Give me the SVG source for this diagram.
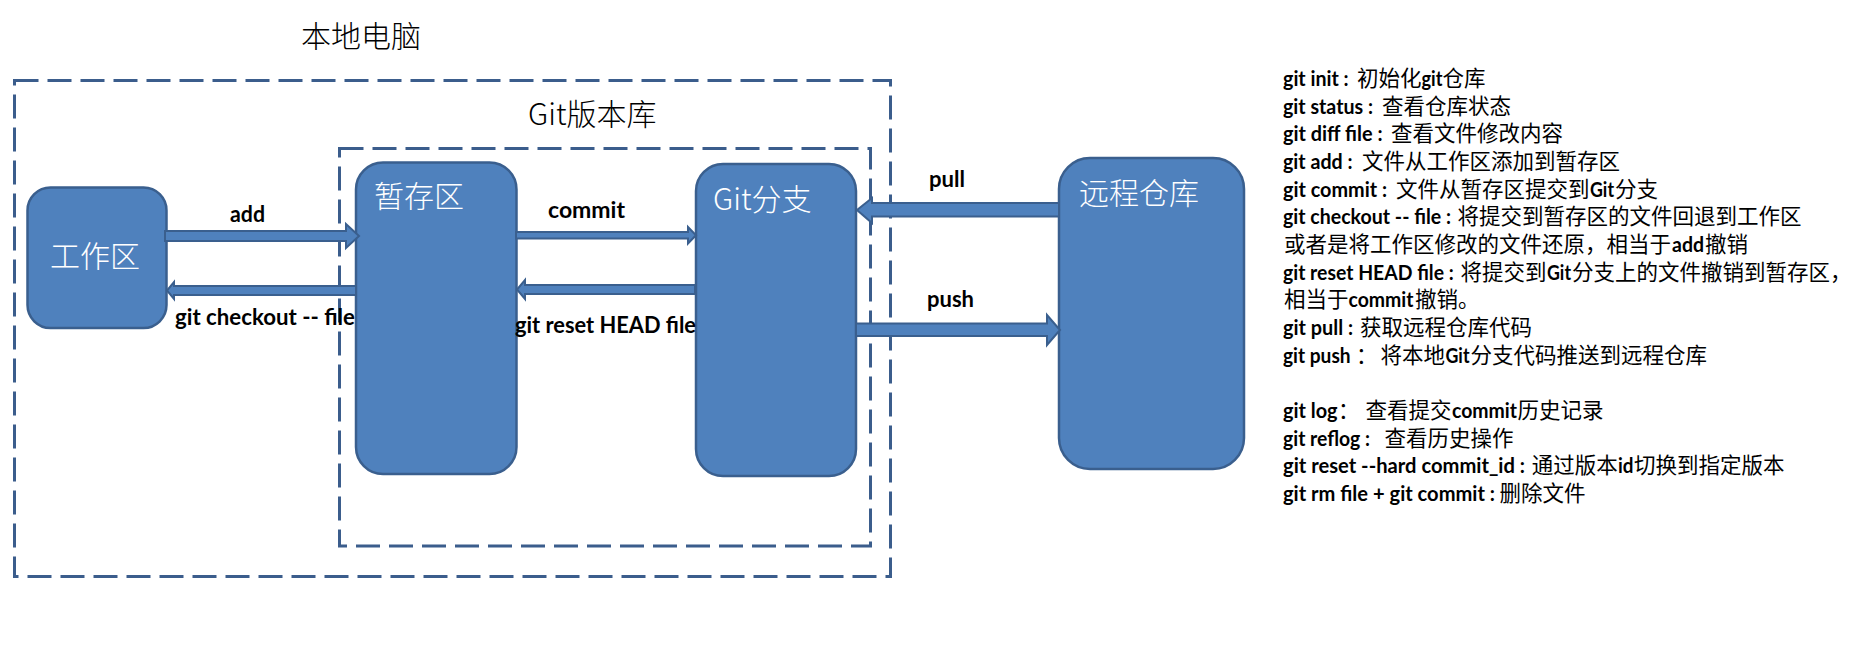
<svg xmlns="http://www.w3.org/2000/svg" width="1858" height="650" viewBox="0 0 1858 650">
<style>
.bg{fill:#ffffff}
.dash{fill:none;stroke:#3B5D8C;stroke-width:3;stroke-dasharray:24 9}
.node{fill:#4F81BD;stroke:#3A5F8E;stroke-width:2.5}
.arrow{fill:#4F81BD;stroke:#3A5F8E;stroke-width:2;stroke-linejoin:miter}
.ntext{font-family:"Noto Sans CJK SC","Noto Sans",sans-serif;font-size:30px;font-weight:300;fill:#ffffff}
.title{font-family:"Noto Sans CJK SC","Noto Sans",sans-serif;font-size:30px;font-weight:300;fill:#000000}
.lbl{font-family:Lato,"Noto Sans CJK SC",sans-serif;font-size:22px;font-weight:bold;fill:#000000}
.list{font-family:"Noto Sans CJK SC","Noto Sans",sans-serif;font-size:21.5px;fill:#000000}
.b{font-family:Lato,"Noto Sans CJK SC",sans-serif;font-weight:bold;font-size:20px}
</style>
<rect class="bg" x="0" y="0" width="1858" height="650"/>

<g id="local-pc">
  <rect class="dash" x="14.5" y="80.5" width="876" height="496"/>
  <text class="title" x="301" y="47">本地电脑</text>
</g>
<g id="git-repo">
  <rect class="dash" x="339.5" y="148.5" width="531" height="397.5"/>
  <text class="title" x="528" y="125">Git版本库</text>
</g>

<g id="node-workspace">
  <rect class="node" x="27.5" y="187.5" width="139" height="140.5" rx="23" ry="23"/>
  <text class="ntext" x="50" y="267">工作区</text>
</g>
<g id="node-stage">
  <rect class="node" x="356" y="162.5" width="160.5" height="311.5" rx="27" ry="27"/>
  <text class="ntext" x="374" y="207">暂存区</text>
</g>
<g id="node-branch">
  <rect class="node" x="696" y="164" width="160" height="312" rx="27" ry="27"/>
  <text class="ntext" x="713" y="210">Git分支</text>
</g>
<g id="node-remote">
  <rect class="node" x="1059" y="158" width="185" height="311" rx="31" ry="31"/>
  <text class="ntext" x="1079" y="204">远程仓库</text>
</g>

<g id="connectors">
  <polygon class="arrow" points="165,231 346,231 346,224 359,236 346,248 346,241 165,241"/>
  <polygon class="arrow" points="356,286 174,286 174,282 167,290.5 174,299 174,295 356,295"/>
  <polygon class="arrow" points="516,232 688,232 688,227 696,235.2 688,243.5 688,238.5 516,238.5"/>
  <polygon class="arrow" points="695,285 525,285 525,280 517,289.5 525,299 525,294 695,294"/>
  <polygon class="arrow" points="1059,203 872,203 872,198 857,210 872,223 872,216.5 1059,216.5"/>
  <polygon class="arrow" points="856,323.5 1047,323.5 1047,315 1060,330 1047,345 1047,336 856,336"/>
  <text class="lbl" x="230" y="222" textLength="35" lengthAdjust="spacingAndGlyphs">add</text>
  <text class="lbl" x="175" y="325" textLength="180" lengthAdjust="spacingAndGlyphs">git checkout -- file</text>
  <text class="lbl" x="548" y="218" textLength="77" lengthAdjust="spacingAndGlyphs">commit</text>
  <text class="lbl" x="515" y="333" textLength="181" lengthAdjust="spacingAndGlyphs">git reset HEAD file</text>
  <text class="lbl" x="929" y="187" textLength="36" lengthAdjust="spacingAndGlyphs">pull</text>
  <text class="lbl" x="927" y="307" textLength="47" lengthAdjust="spacingAndGlyphs">push</text>
</g>

<g id="command-list">
  <text class="list" y="86"><tspan class="b" x="1283" textLength="65.7" lengthAdjust="spacingAndGlyphs">git init :</tspan><tspan x="1357">初始化</tspan><tspan class="b" x="1421.5" textLength="21" lengthAdjust="spacingAndGlyphs">git</tspan><tspan x="1442.6">仓库</tspan></text>
  <text class="list" y="113.7"><tspan class="b" x="1283" textLength="90" lengthAdjust="spacingAndGlyphs">git status :</tspan><tspan x="1382">查看仓库状态</tspan></text>
  <text class="list" y="141.3"><tspan class="b" x="1283" textLength="99.5" lengthAdjust="spacingAndGlyphs">git diff file :</tspan><tspan x="1391">查看文件修改内容</tspan></text>
  <text class="list" y="169"><tspan class="b" x="1283" textLength="69.5" lengthAdjust="spacingAndGlyphs">git add :</tspan><tspan x="1362">文件从工作区添加到暂存区</tspan></text>
  <text class="list" y="196.6"><tspan class="b" x="1283" textLength="104" lengthAdjust="spacingAndGlyphs">git commit :</tspan><tspan x="1396">文件从暂存区提交到</tspan><tspan class="b" x="1590" textLength="24" lengthAdjust="spacingAndGlyphs">Git</tspan><tspan x="1615">分支</tspan></text>
  <text class="list" y="224.3"><tspan class="b" x="1283" textLength="168" lengthAdjust="spacingAndGlyphs">git checkout -- file :</tspan><tspan x="1457.5">将提交到暂存区的文件回退到工作区</tspan></text>
  <text class="list" y="251.9"><tspan x="1284">或者是将工作区修改的文件还原，相当于</tspan><tspan class="b" x="1672" textLength="32" lengthAdjust="spacingAndGlyphs">add</tspan><tspan x="1705">撤销</tspan></text>
  <text class="list" y="279.6"><tspan class="b" x="1283" textLength="170.7" lengthAdjust="spacingAndGlyphs">git reset HEAD file :</tspan><tspan x="1460.5">将提交到</tspan><tspan class="b" x="1547" textLength="24" lengthAdjust="spacingAndGlyphs">Git</tspan><tspan x="1572">分支上的文件撤销到暂存区，</tspan></text>
  <text class="list" y="307.2"><tspan x="1284">相当于</tspan><tspan class="b" x="1348.5" textLength="65" lengthAdjust="spacingAndGlyphs">commit</tspan><tspan x="1415">撤销。</tspan></text>
  <text class="list" y="334.9"><tspan class="b" x="1283" textLength="70" lengthAdjust="spacingAndGlyphs">git pull :</tspan><tspan x="1360">获取远程仓库代码</tspan></text>
  <text class="list" y="362.5"><tspan class="b" x="1283" textLength="67.6" lengthAdjust="spacingAndGlyphs">git push</tspan><tspan x="1356">：</tspan><tspan x="1380.6">将本地</tspan><tspan class="b" x="1445.5" textLength="24" lengthAdjust="spacingAndGlyphs">Git</tspan><tspan x="1470.5">分支代码推送到远程仓库</tspan></text>
  <text class="list" y="417.8"><tspan class="b" x="1283" textLength="54.5" lengthAdjust="spacingAndGlyphs">git log</tspan><tspan x="1338">：</tspan><tspan x="1365.6">查看提交</tspan><tspan class="b" x="1452" textLength="65" lengthAdjust="spacingAndGlyphs">commit</tspan><tspan x="1517.6">历史记录</tspan></text>
  <text class="list" y="445.5"><tspan class="b" x="1283" textLength="87" lengthAdjust="spacingAndGlyphs">git reflog :</tspan><tspan x="1384.4">查看历史操作</tspan></text>
  <text class="list" y="473.1"><tspan class="b" x="1283" textLength="242" lengthAdjust="spacingAndGlyphs">git reset --hard  commit_id :</tspan><tspan x="1531.7">通过版本</tspan><tspan class="b" x="1618" textLength="15.5" lengthAdjust="spacingAndGlyphs">id</tspan><tspan x="1634">切换到指定版本</tspan></text>
  <text class="list" y="500.8"><tspan class="b" x="1283" textLength="212" lengthAdjust="spacingAndGlyphs">git rm file + git commit :</tspan><tspan x="1499.5">删除文件</tspan></text>
</g>
</svg>
